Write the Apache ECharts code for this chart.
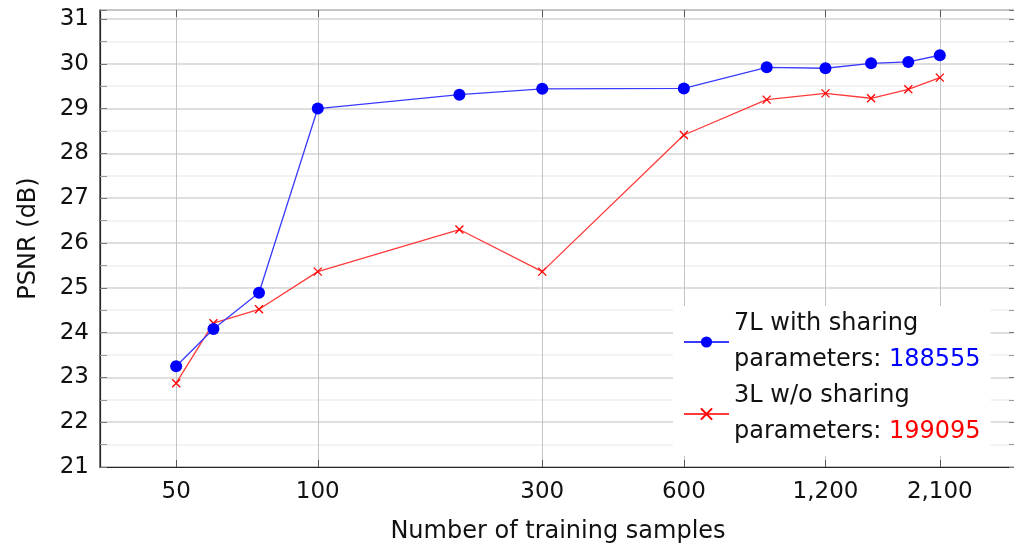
<!DOCTYPE html>
<html>
<head>
<meta charset="utf-8">
<script src="https://cdn.jsdelivr.net/npm/echarts@6/dist/echarts.min.js"></script>
<style>
html,body{margin:0;padding:0;background:#fff;}
#chart{width:1014px;height:547px;}
</style>
</head>
<body>
<div id="chart"></div>
<script>
// Data
const samples = [50, 60, 75, 100, 200, 300, 600, 900, 1200, 1500, 1800, 2100];
const psnr7L = [23.25, 24.08, 24.89, 29.0, 29.31, 29.44, 29.45, 29.92, 29.90, 30.01, 30.04, 30.19];
const psnr3L = [22.87, 24.21, 24.52, 25.36, 26.30, 25.36, 28.41, 29.20, 29.34, 29.23, 29.43, 29.69];
const xTicks = [50, 100, 300, 600, 1200, 2100];
const yTicks = [21, 22, 23, 24, 25, 26, 27, 28, 29, 30, 31];
const seriesNames = ['7L with sharing', '3L w/o sharing'];
const paramCounts = ['188555', '199095'];

const FONT = 'DejaVu Sans';
const chart = echarts.init(document.getElementById('chart'), null, {renderer: 'canvas'});

const xMin = 34.44, xMax = 3049;
const yMin = 21, yMax = 31.2;

const fmtNum = v => Number(v).toLocaleString('en-US');

const option = {
  animation: false,
  backgroundColor: '#fff',
  grid: {left: 100, top: 10, width: 916, height: 457, show: true, borderColor: '#262626', borderWidth: 1.2,
         containLabel: false, outerBoundsMode: 'none'},
  legend: {
    left: 673, top: 306,
    orient: 'vertical',
    backgroundColor: '#fff',
    padding: [0, 10, 6, 10],
    itemGap: 0,
    itemWidth: 45, itemHeight: 14,
    data: seriesNames,
    formatter: function (name) {
      const i = seriesNames.indexOf(name);
      const b = i === 0 ? 'b' : 'r';
      return '{t|' + name + '}\n{t|parameters: }{' + b + '|' + paramCounts[i] + '}';
    },
    textStyle: {
      fontFamily: FONT, fontSize: 24, color: '#111', lineHeight: 36,
      rich: {
        t: {fontFamily: FONT, fontSize: 24, color: '#111', lineHeight: 36},
        b: {fontFamily: FONT, fontSize: 24, color: '#0000ff', lineHeight: 36},
        r: {fontFamily: FONT, fontSize: 24, color: '#ff0000', lineHeight: 36}
      }
    }
  },
  xAxis: [{
    type: 'log', logBase: 10, min: xMin, max: xMax,
    name: 'Number of training samples', nameLocation: 'middle', nameGap: 53,
    nameTextStyle: {fontFamily: FONT, fontSize: 24, color: '#111'},
    axisLine: {show: true, lineStyle: {color: '#262626', width: 1.2}},
    axisTick: {show: true, inside: true, length: 7, customValues: xTicks, lineStyle: {color: '#555'}},
    axisLabel: {show: true, customValues: xTicks, formatter: fmtNum, margin: 14, fontFamily: FONT, fontSize: 23, color: '#111'},
    splitLine: {show: true, lineStyle: {color: '#c4c4c4', width: 1}},
    minorTick: {show: false}, minorSplitLine: {show: false}
  }, {
    type: 'log', logBase: 10, min: xMin, max: xMax, position: 'top',
    axisLine: {show: false},
    axisTick: {show: true, inside: true, length: 7, customValues: xTicks, lineStyle: {color: '#555'}},
    axisLabel: {show: false},
    splitLine: {show: false}
  }],
  yAxis: [{
    type: 'value', min: yMin, max: yMax, interval: 1,
    name: 'PSNR (dB)', nameLocation: 'middle', nameGap: 59, nameRotate: 90,
    nameTextStyle: {fontFamily: FONT, fontSize: 24, color: '#111'},
    axisLine: {show: true, lineStyle: {color: '#262626', width: 1.2}},
    axisTick: {show: true, inside: true, length: 7, lineStyle: {color: '#777'}},
    minorTick: {show: true, splitNumber: 2, length: 7, lineStyle: {color: '#999'}},
    axisLabel: {show: true, customValues: yTicks, margin: 11, fontFamily: FONT, fontSize: 23, color: '#111'},
    splitLine: {show: true, lineStyle: {color: '#d4d4d4', width: 1.5}},
    minorSplitLine: {show: true, lineStyle: {color: '#f0f0f0', width: 1.5}}
  }, {
    type: 'value', min: yMin, max: yMax, interval: 1, position: 'right', offset: 0,
    axisLine: {show: false},
    axisTick: {show: true, inside: true, length: 7, lineStyle: {color: '#777'}},
    minorTick: {show: true, splitNumber: 2, length: 7, lineStyle: {color: '#999'}},
    axisLabel: {show: false},
    splitLine: {show: false}, minorSplitLine: {show: false}
  }],
  series: [{
    name: seriesNames[0], type: 'line', xAxisIndex: 0, yAxisIndex: 0,
    data: samples.map((s, i) => [s, psnr7L[i]]),
    symbol: 'circle', symbolSize: 12,
    lineStyle: {color: '#3a3aff', width: 1.3},
    itemStyle: {color: '#0000ff'},
    z: 3
  }, {
    name: seriesNames[1], type: 'line', xAxisIndex: 0, yAxisIndex: 0,
    data: samples.map((s, i) => [s, psnr3L[i]]),
    symbol: 'path://M0,0L10,10M10,0L0,10', symbolSize: 8,
    lineStyle: {color: '#ff3a3a', width: 1.3},
    itemStyle: {color: 'rgba(0,0,0,0)', borderColor: '#ff0000', borderWidth: 1.3},
    z: 2
  }]
};
chart.setOption(option);
</script>
</body>
</html>
